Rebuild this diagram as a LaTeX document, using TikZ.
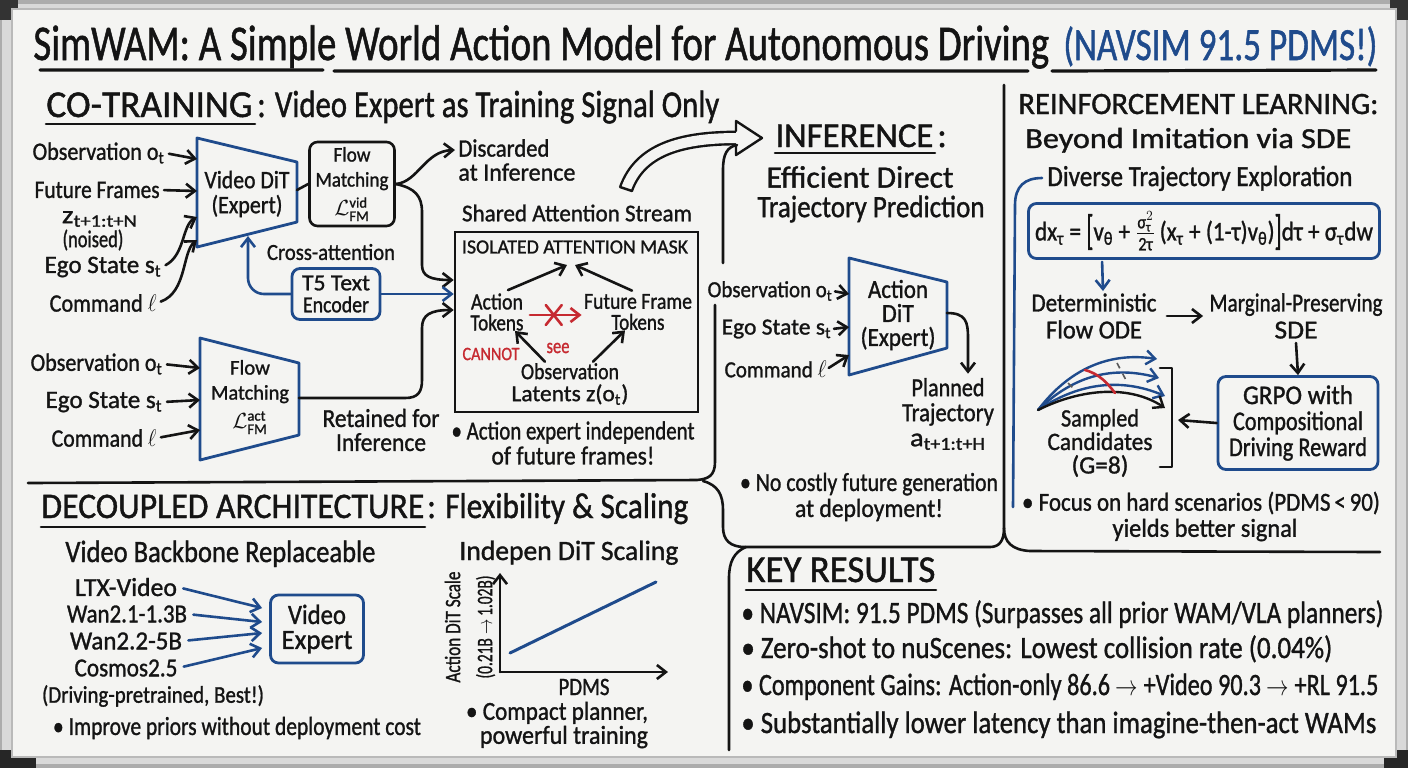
\documentclass[tikz,border=0pt]{standalone}
\usepackage{fontspec}
\setmainfont{Carlito}[FakeBold=1.2]
\usepackage{amsmath}
\usepackage{graphicx}
\usetikzlibrary{arrows.meta,calc}
\definecolor{bblue}{HTML}{1F4B8C}
\definecolor{rred}{HTML}{C62A31}
\definecolor{ink}{HTML}{141414}
\definecolor{board}{HTML}{F4F4F2}
\newcommand\fw[2]{\setbox0=\hbox{#2}\pgfmathsetmacro\fitsc{#1/\wd0}\scalebox{\fitsc}[1]{\box0}}
\newcommand\sbt[1]{\textsubscript{#1}}
\newcommand\tallbr[1]{\raisebox{-0.3ex}{\scalebox{1}[1.55]{#1}}}
\tikzset{
  fs/.style 2 args={font=\fontsize{#1}{#2}\selectfont},
  txt/.style={inner sep=0pt, text=ink, align=center},
  lw/.style={line width=1.3pt, draw=ink, line cap=round, line join=round},
  barb/.style={-{Straight Barb[length=4.5pt,width=7pt]}},
  arr/.style={lw, barb},
  barr/.style={line width=1.3pt, draw=bblue, line cap=round, line join=round, barb},
  rarr/.style={line width=1.3pt, draw=rred, line cap=round, barb},
  bbox/.style={draw=bblue, line width=1.4pt, rounded corners=4pt, inner sep=2pt, align=center, text=ink},
  kbox/.style={draw=ink, line width=1.3pt, rounded corners=4pt, inner sep=2pt, align=center, text=ink},
  trap/.style={draw=bblue, line width=1.4pt, line join=round},
}
\begin{document}
\begin{tikzpicture}[x=0.5pt,y=-0.5pt]
\useasboundingbox (0,0) rectangle (1408,768);
% ---------- whiteboard ----------
\fill[gray!65] (0,0) rectangle (1408,768);
\fill[gray!30] (2,4) rectangle (1406,764);
\fill[black!80] (0,0) rectangle (18,20);
\fill[black!80] (1390,0) rectangle (1408,20);
\fill[black!85] (0,750) rectangle (36,768);
\fill[black!85] (1384,750) rectangle (1408,768);
\fill[board] (12,9) rectangle (1396,757);
\draw[gray!55, line width=0.6pt] (12,9) rectangle (1396,757);

% ---------- title ----------
\node[txt, fs={25}{28}, anchor=base west] (title) at (33,60) {\fw{508}{SimWAM: A Simple World Action Model for Autonomous Driving}};
\node[txt, fs={23}{26}, anchor=base west, text=bblue] (navsim) at (1063,60) {\fw{157}{(NAVSIM 91.5 PDMS!)}};
\draw[lw, line width=1.6pt] (40,70) -- (323,70) (334,71) -- (1028,71) (1052,71) -- (1376,70);

% ---------- co-training ----------
\node[txt, fs={19}{22}, anchor=base west] (ct1) at (46,117) {\fw{103}{CO-TRAINING}};
\node[txt, fs={19}{22}, anchor=base west] (ct2) at (257,117) {\fw{231}{: Video Expert as Training Signal Only}};
\draw[lw] (46,124) -- (255,124);

\node[txt, fs={12.5}{14}, anchor=east] (obsA) at (165,153) {\fw{66}{Observation o\sbt{t}}};
\node[txt, fs={12.5}{14}, anchor=east] (ffA) at (160,190) {\fw{62.5}{Future Frames}};
\node[txt, fs={12.5}{14}] (zA) at (100,219) {\fw{38}{z\sbt{t+1:t+N}}};
\node[txt, fs={12}{14}] (nsA) at (93,240) {\fw{30.5}{(noised)}};
\node[txt, fs={12.5}{14}, anchor=east] (egoA) at (162,267) {\fw{58.5}{Ego State s\sbt{t}}};
\node[txt, fs={12.5}{14}, anchor=east] (cmdA) at (157,303) {\fw{53.5}{Command $\ell$}};

\draw[trap] (197,138) -- (297,162) -- (297,222) -- (197,247) -- cycle;
\node[txt, fs={12.5}{12.5}] (vdit) at (247,194) {\fw{42.5}{Video DiT}\\\fw{35.5}{(Expert)}};
\coordinate (vd1) at (197,159);
\coordinate (vd2) at (197,191);
\coordinate (vd3) at (197,217);
\coordinate (vd4) at (197,240);
\coordinate (vdo) at (297,190);
\coordinate (vdb) at (248,236);
\draw[arr, shorten <=2pt] (obsA.east) -- (vd1);
\draw[arr, shorten <=2pt] (ffA.east) -- (vd2);
\draw[arr, shorten <=2pt] (egoA.east) .. controls (185,255) and (182,225) .. (vd3);
\draw[arr, shorten <=2pt] (cmdA.east) .. controls (187,292) and (182,252) .. (vd4);

\node[kbox, fs={10.5}{12.5}, minimum width=42.5pt, minimum height=42pt] (fmv) at (352,184) {\fw{18.5}{Flow}\\\fw{36.5}{Matching}\\[2pt]$\mathcal{L}^{\mathrm{vid}}_{\mathrm{FM}}$};
\draw[lw] (vdo) -- (fmv.west);

\node[txt, fs={12.5}{12}, anchor=west, align=left] (disc) at (458,160) {\fw{45.5}{Discarded}\\\fw{58.5}{at Inference}};
\draw[arr] (fmv.east) .. controls (418,182) and (425,151) .. ($(disc.west)+(-3,-10)$);

\node[txt, fs={11.5}{13}] (xatt) at (331,252) {\fw{64}{Cross-attention}};
\node[bbox, fs={11.5}{11}, minimum width=44pt, minimum height=25.5pt] (t5) at (336,294) {\fw{34}{T5 Text}\\\fw{33}{Encoder}};

% attention box
\node[txt, fs={12}{14}] (sas) at (577,213) {\fw{115}{Shared Attention Stream}};
\node[draw=ink, line width=1.3pt, minimum width=121.5pt, minimum height=90pt, inner sep=0pt] (att) at (576.5,322) {};
\coordinate (attA) at ($(att.west)+(0,-42)$);
\coordinate (attB) at ($(att.west)+(0,-28)$);
\coordinate (attC) at ($(att.west)+(0,-12)$);
\node[txt, fs={10}{12}] (iam) at (575,247) {\fw{113}{ISOLATED ATTENTION MASK}};
\coordinate (mtop) at (571,263);
\node[txt, fs={11.5}{10.5}] (act) at (497,312) {\fw{26}{Action}\\\fw{26.5}{Tokens}};
\node[txt, fs={11.5}{10.5}] (fut) at (638,312) {\fw{54}{Future Frame}\\\fw{26.5}{Tokens}};
\draw[arr] ($(act.north)+(11,-3)$) -- ($(mtop)+(-4,2)$);
\draw[arr] ($(fut.north)+(-6,-3)$) -- ($(mtop)+(4,2)$);
\draw[rarr] ($(act.east)+(6,3)$) -- ($(fut.west)+(-2,3)$);
\coordinate (rx) at ($(act.east)!0.5!(fut.west)+(0,3)$);
\draw[rred, line width=1.3pt, line cap=round] ($(rx)+(-8,-10)$) -- ($(rx)+(8,10)$) ($(rx)+(8,-10)$) -- ($(rx)+(-8,10)$);
\node[txt, fs={9.5}{10}, text=rred] (cannot) at (491,354) {\fw{28.5}{CANNOT}};
\node[txt, fs={10.5}{10}, text=rred] (see) at (558,348) {\fw{11.5}{see}};
\node[txt, fs={11.5}{11}] (olat) at (570,384) {\fw{49}{Observation}\\\fw{58.5}{Latents z(o\sbt{t})}};
\draw[arr] ($(olat.north)+(-25,-1)$) -- ($(act.south)+(18,0)$);
\draw[arr] ($(olat.north)+(23,-1)$) -- ($(fut.south)+(-13,0)$);
\node[txt, fs={13}{12.5}] (indep) at (573,443) {\fw{121.5}{• Action expert independent}\\\fw{81.5}{of future frames!}};

% connectors into the attention box
\draw[arr] (fmv.east) .. controls (415,188) and (422,196) .. (422,212) -- (422,265) .. controls (422,276) and (430,280) .. (attA);
\draw[barr, rounded corners=8pt] (t5.west) -| (vdb);
\draw[barr] (t5.east) -- (attB);

% action flow matching
\node[txt, fs={12.5}{14}, anchor=east] (obsB) at (163,364) {\fw{66}{Observation o\sbt{t}}};
\node[txt, fs={12.5}{14}, anchor=east] (egoB) at (163,402) {\fw{58.5}{Ego State s\sbt{t}}};
\node[txt, fs={12.5}{14}, anchor=east] (cmdB) at (157,438) {\fw{52.5}{Command $\ell$}};
\draw[trap] (200,338) -- (299,363) -- (299,435) -- (200,460) -- cycle;
\node[txt, fs={10.5}{12.5}] (fma) at (250,397) {\fw{20}{Flow}\\\fw{39}{Matching}\\[2pt]$\mathcal{L}^{\mathrm{act}}_{\mathrm{FM}}$};
\coordinate (fa1) at (200,368);
\coordinate (fa2) at (200,400);
\coordinate (fa3) at (200,430);
\coordinate (fao) at (299,398);
\draw[arr, shorten <=2pt] (obsB.east) -- (fa1);
\draw[arr, shorten <=2pt] (egoB.east) -- (fa2);
\draw[arr, shorten <=2pt] (cmdB.east) -- (fa3);
\draw[arr] (fao) -- (405,398) .. controls (418,398) and (422,392) .. (422,380) -- (422,328) .. controls (422,315) and (430,310) .. (attC);
\node[txt, fs={13}{12}] (ret) at (381,430) {\fw{58.5}{Retained for}\\\fw{45}{Inference}};

% big hollow arrow
\coordinate (bat) at (626,189);
\coordinate (bah) at (737,138);
\draw[ink, line width=1.2pt, double=board, double distance=5pt] (bat) .. controls (640,150) and (680,138) .. (bah);
\fill[board] (736,121) -- (762,138) -- (736,155) -- cycle;
\draw[lw, line width=1.2pt] (736,131) -- (736,121) -- (762,138) -- (736,155) -- (736,145);
\draw[lw, line width=1.2pt] (620,187) -- (632,191);

% separators
\draw[lw] (723,263) -- (723,170) .. controls (723,154) and (727,147) .. (737,145);
\draw[lw] (715,305) -- (715,462) .. controls (715,476) and (708,479) .. (697,480) -- (28,483);
\draw[lw] (703,481) .. controls (718,485) and (723,495) .. (723,510) -- (723,527) .. controls (723,540) and (730,547) .. (745,547) -- (990,547) .. controls (1000,547) and (1004,540) .. (1004,528) -- (1004,85);
\draw[lw] (1004,528) .. controls (1004,542) and (1012,550) .. (1030,551) -- (1380,552);
\draw[lw] (746,547) .. controls (734,552) and (729,562) .. (729,578) -- (729,750);

% ---------- inference ----------
\node[txt, fs={17.5}{20}, anchor=base west] (inf1) at (775,147) {\fw{79}{INFERENCE}};
\node[txt, fs={17.5}{20}, anchor=base west] (infc) at (937,147) {:};
\draw[lw] (775,153) -- (935,153);
\node[txt, fs={15.5}{18}] (inf2) at (860,177) {\fw{93.5}{Efficient Direct}};
\node[txt, fs={15.5}{18}] (inf3) at (871,209) {\fw{113.5}{Trajectory Prediction}};

\node[txt, fs={11.5}{13}, anchor=east] (obsI) at (833,291) {\fw{62.5}{Observation o\sbt{t}}};
\node[txt, fs={11.5}{13}, anchor=east] (egoI) at (832,329) {\fw{55}{Ego State s\sbt{t}}};
\node[txt, fs={11.5}{13}, anchor=east] (cmdI) at (827,369) {\fw{51}{Command $\ell$}};
\draw[trap] (849,258) -- (947,282) -- (947,348) -- (849,375) -- cycle;
\node[txt, fs={13}{12}] (actI) at (898,315) {\fw{30}{Action}\\\fw{16}{DiT}\\\fw{37.5}{(Expert)}};
\coordinate (ai1) at (849,294);
\coordinate (ai2) at (849,327);
\coordinate (ai3) at (849,355);
\coordinate (aio) at (947,313);
\draw[arr, shorten <=1pt] (obsI.east) -- (ai1);
\draw[arr, shorten <=1pt] (egoI.east) -- (ai2);
\draw[arr, shorten <=1pt] (cmdI.east) -- (ai3);
\node[txt, fs={13}{12.5}] (plan) at (948,414) {\fw{36.5}{Planned}\\\fw{46}{Trajectory}\\\fw{38}{a\sbt{t+1:t+H}}};
\draw[arr] (aio) .. controls (966,313) and (968,322) .. (968,338) -- ($(plan.north)+(20,-4)$);
\node[txt, fs={13}{13}] (nocost) at (869,497) {\fw{129}{• No costly future generation}\\\fw{74}{at deployment!}};

% ---------- reinforcement learning ----------
\node[txt, fs={15.5}{18}, anchor=base west] (rl1) at (1018,114) {\fw{180}{REINFORCEMENT LEARNING:}};
\node[txt, fs={14.5}{18}, anchor=base west] (rl2) at (1025,148) {\fw{163}{Beyond Imitation via SDE}};
\node[txt, fs={14.5}{18}, anchor=base west] (rl3) at (1047,186) {\fw{152.5}{Diverse Trajectory Exploration}};
\draw[bblue, line width=1.3pt, line cap=round] (1042,178) .. controls (1025,178) and (1015,186) .. (1015,205) -- (1013,507);
\node[bbox, fs={13.5}{16}, inner sep=1pt, minimum width=175.5pt, minimum height=27.5pt] (eq) at (1204,231) {\fw{169}{dx\sbt{τ} = \tallbr{[}v\sbt{θ} + $\frac{\text{σ}^{2}_{\text{τ}}}{\text{2τ}}$\,(x\sbt{τ} + (1-τ)v\sbt{θ})\tallbr{]}dτ + σ\sbt{τ}dw}};
\node[txt, fs={13}{13.5}] (det) at (1094,316) {\fw{62.5}{Deterministic}\\\fw{48}{Flow ODE}};
\node[txt, fs={13}{13.5}] (mps) at (1296,316) {\fw{86.5}{Marginal-Preserving}\\\fw{21.5}{SDE}};
\draw[barr] ($(eq.south west)+(75,2)$) -- ($(det.north)+(9,-2)$);
\draw[arr] ($(det.east)+(10,0)$) -- ($(mps.west)+(-6,0)$);
\node[bbox, fs={13.5}{13}, minimum width=80pt, minimum height=46.5pt] (grpo) at (1298,423) {\fw{55}{GRPO with}\\\fw{65}{Compositional}\\\fw{69}{Driving Reward}};
\draw[arr] ($(mps.south)+(0,4)$) -- (grpo.north);
\coordinate (brk) at (1178,420);
\draw[lw] (1160,368) -- (1172,368) -- (1172,467) -- (1160,467);
\draw[arr] (grpo.west) -- (brk);
% trajectory fan
\coordinate (fan) at (1038,410);
\draw[barr, line width=1.2pt] (fan) .. controls (1070,368) and (1110,352) .. (1157,359);
\draw[barr, line width=1.2pt] (fan) .. controls (1075,374) and (1115,366) .. (1159,378);
\draw[barr, line width=1.2pt] (fan) .. controls (1080,382) and (1122,378) .. (1165,396);
\draw[arr, line width=1.2pt] (fan) .. controls (1082,388) and (1130,385) .. (1165,408);
\draw[rred, line width=1.3pt, line cap=round] (1085,370) .. controls (1100,374) and (1108,384) .. (1115,393);
\draw[gray!70!black, line width=0.8pt, dashed] (1117,363) -- (1127,382);
\draw[gray!70!black, line width=0.8pt, dashed] (1068,383) -- (1074,389);
\node[txt, fs={12.5}{11.75}] (samp) at (1100,443) {\fw{39}{Sampled}\\\fw{52.5}{Candidates}\\\fw{28.5}{(G=8)}};
\node[txt, fs={13}{14}] (focus) at (1201,503) {\fw{179}{• Focus on hard scenarios (PDMS\,<\,90)}};
\node[txt, fs={13}{14}] (yields) at (1205,530) {\fw{92.5}{yields better signal}};

% ---------- decoupled architecture ----------
\node[txt, fs={18}{22}, anchor=base west] (dc1) at (41,518) {\fw{191.5}{DECOUPLED ARCHITECTURE}};
\node[txt, fs={18}{22}, anchor=base west] (dc2) at (427,518) {\fw{130.5}{: Flexibility \& Scaling}};
\draw[lw] (41,527) -- (425,527);
\node[txt, fs={15.5}{18}, anchor=base west] (vbr) at (65,562) {\fw{155}{Video Backbone Replaceable}};
\node[txt, fs={13}{14}] (ltx) at (126,587) {\fw{51}{LTX-Video}};
\node[txt, fs={13}{14}] (wa) at (127,614) {\fw{60}{Wan2.1-1.3B}};
\node[txt, fs={13}{14}] (wb) at (126,641) {\fw{56}{Wan2.2-5B}};
\node[txt, fs={13}{14}] (cos) at (126,668) {\fw{51.5}{Cosmos2.5}};
\node[txt, fs={12}{14}] (dpt) at (153,696) {\fw{111}{(Driving-pretrained, Best!)}};
\node[bbox, fs={14}{12.5}, minimum width=46.5pt, minimum height=34pt] (ve) at (317,629) {\fw{29}{Video}\\\fw{35.5}{Expert}};
\draw[barr, shorten <=3pt] (ltx.east) -- ($(ve.west)+(-7,-21)$);
\draw[barr, shorten <=3pt] (wa.east) -- ($(ve.west)+(-7,-7)$);
\draw[barr, shorten <=3pt] (wb.east) -- ($(ve.west)+(-7,4)$);
\draw[barr, shorten <=3pt] (cos.east) -- ($(ve.west)+(-7,19)$);
\node[txt, fs={13}{14}] (impr) at (237,728) {\fw{184}{• Improve priors without deployment cost}};

\node[txt, fs={14}{18}, anchor=base west] (ids) at (459,560) {\fw{109.5}{Indepen DiT Scaling}};
\coordinate (org) at (500,672);
\coordinate (yax) at (500,573);
\coordinate (xax) at (668,672);
\draw[arr] (org) -- (yax);
\draw[arr] (org) -- (xax);
\draw[bblue, line width=1.5pt, line cap=round] (510,653) -- (656,582);
\node[txt, fs={11}{16}, rotate=90] (yl) at (470,627) {\fw{55.5}{Action DiT Scale}\\\fw{51.5}{(0.21B $\rightarrow$ 1.02B)}};
\node[txt, fs={12.5}{14}] (pdms) at (584,687) {\fw{25.5}{PDMS}};
\node[txt, fs={13}{12}, align=left] (cmp) at (557,725) {\fw{91}{• Compact planner,}\\\hspace*{7pt}\fw{84}{powerful training}};

% ---------- key results ----------
\node[txt, fs={19}{22}, anchor=base west] (kr) at (746,582) {\fw{94.5}{KEY RESULTS}};
\draw[lw] (746,590) -- (936,590);
\node[txt, fs={15.5}{18}, anchor=base west] (k1) at (741,623) {\fw{321}{• NAVSIM: 91.5 PDMS (Surpasses all prior WAM/VLA planners)}};
\node[txt, fs={15.5}{18}, anchor=base west] (k2) at (741,658) {\fw{295.5}{• Zero-shot to nuScenes: Lowest collision rate (0.04\%)}};
\node[txt, fs={15.5}{18}, anchor=base west] (k3) at (741,695) {\fw{318.5}{• Component Gains: Action-only 86.6 $\rightarrow$ +Video 90.3 $\rightarrow$ +RL 91.5}};
\node[txt, fs={15.5}{18}, anchor=base west] (k4) at (741,733) {\fw{317.5}{• Substantially lower latency than imagine-then-act WAMs}};
\end{tikzpicture}
\end{document}
